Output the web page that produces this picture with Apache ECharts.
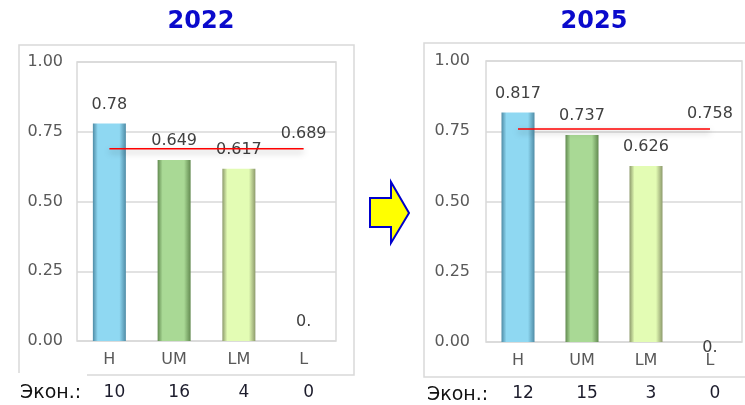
<!DOCTYPE html>
<html>
<head>
<meta charset="utf-8">
<script src="https://cdn.jsdelivr.net/npm/echarts@6/dist/echarts.min.js"></script>
<style>
  html, body { margin: 0; padding: 0; background: #fff; }
  #chart { width: 745px; height: 405px; }
</style>
</head>
<body>
<div id="chart"></div>
<script>
  // data
  const categories = ['H', 'UM', 'LM', 'L'];
  const values2022 = [0.78, 0.649, 0.617, 0];
  const values2025 = [0.817, 0.737, 0.626, 0];
  const avg2022 = 0.689;
  const avg2025 = 0.758;
  const econ2022 = ['10', '16', '4', '0'];
  const econ2025 = ['12', '15', '3', '0'];
  const yTicks = [0, 0.25, 0.5, 0.75, 1];

  const FONT = 'DejaVu Sans';

  // 柱子配色: [边缘, 中间]
  const barColors = [
    ['#4f8ca6', '#8fd8f2'],
    ['#628a50', '#a9d995'],
    ['#8d9a6c', '#e3fcb4'],
    ['#999', '#ddd'],
  ];

  const gradient = ([edge, mid]) => ({
    type: 'linear', x: 0, y: 0, x2: 1, y2: 0,
    colorStops: [
      { offset: 0, color: edge },
      { offset: 0.15, color: mid },
      { offset: 0.8, color: mid },
      { offset: 1, color: edge },
    ],
  });

  const makeBars = (values, zeroOffset) =>
    values.map((v, i) => ({
      value: v,
      itemStyle: { color: gradient(barColors[i]) },
      label: v === 0 ? { offset: [0, zeroOffset] } : {},
    }));

  const makeAvg = (avg) =>
    categories.map((c, i) => ({
      value: avg,
      label: { show: i === categories.length - 1 },
    }));

  const yAxisBase = (gridIndex, margin) => ({
    type: 'value',
    gridIndex,
    min: yTicks[0],
    max: yTicks[yTicks.length - 1],
    interval: 0.25,
    axisLine: { show: false },
    axisTick: { show: false },
    axisLabel: {
      margin,
      fontFamily: FONT,
      fontSize: 16,
      color: '#595959',
      formatter: (v) => v.toFixed(2),
    },
    splitLine: { lineStyle: { color: '#d9d9d9', width: 1.5 } },
  });

  const xAxisCat = (gridIndex) => ({
    type: 'category',
    gridIndex,
    data: categories,
    axisLine: { show: false },
    axisTick: { show: false },
    axisLabel: { margin: 11, fontFamily: FONT, fontSize: 16, color: '#595959' },
  });

  const xAxisEcon = (gridIndex, data) => ({
    type: 'category',
    gridIndex,
    data,
    position: 'bottom',
    offset: 35,
    axisLine: { show: false },
    axisTick: { show: false },
    axisLabel: {
      margin: 8,
      padding: [0, 0, 0, 10],
      fontFamily: FONT,
      fontSize: 17,
      color: '#1c1c2c',
    },
  });

  const barSeries = (idx, data) => ({
    type: 'bar',
    xAxisIndex: idx,
    yAxisIndex: idx,
    barWidth: 33,
    data,
    label: {
      show: true,
      position: 'top',
      distance: 11,
      fontFamily: FONT,
      fontSize: 16,
      color: '#404040',
      formatter: (p) => (p.value === 0 ? '0.' : String(p.value)),
    },
  });

  const lineSeries = (idx, data) => ({
    type: 'line',
    xAxisIndex: idx,
    yAxisIndex: idx,
    data,
    symbol: 'circle',
    symbolSize: 0,
    z: 5,
    lineStyle: {
      color: '#ff0000',
      width: 1.5,
      shadowColor: 'rgba(0,0,0,0.35)',
      shadowBlur: 6,
      shadowOffsetY: 3,
    },
    label: {
      position: 'top',
      distance: 7,
      fontFamily: FONT,
      fontSize: 16,
      color: '#404040',
    },
  });

  const chart = echarts.init(document.getElementById('chart'));

  chart.setOption({
    animation: false,
    grid: [
      { left: 77, top: 62, width: 259, height: 279, show: true, borderColor: '#d9d9d9', borderWidth: 1.5 },
      { left: 486, top: 61, width: 256, height: 281, show: true, borderColor: '#d9d9d9', borderWidth: 1.5 },
    ],
    xAxis: [xAxisCat(0), xAxisCat(1), xAxisEcon(0, econ2022), xAxisEcon(1, econ2025)],
    yAxis: [yAxisBase(0, 14), yAxisBase(1, 16)],
    series: [
      barSeries(0, makeBars(values2022, 0)),
      barSeries(1, makeBars(values2025, 25)),
      lineSeries(0, makeAvg(avg2022)),
      lineSeries(1, makeAvg(avg2025)),
      // 经济体数量行
      { type: 'bar', xAxisIndex: 2, yAxisIndex: 0, data: [] },
      { type: 'bar', xAxisIndex: 3, yAxisIndex: 1, data: [] },
    ],
    graphic: [
      { type: 'rect', shape: { x: 19, y: 45, width: 335, height: 330 }, style: { fill: 'none', stroke: '#d9d9d9', lineWidth: 1.5 }, silent: true },
      { type: 'rect', shape: { x: 424, y: 43, width: 330, height: 334 }, style: { fill: 'none', stroke: '#d9d9d9', lineWidth: 1.5 }, silent: true },
      { type: 'rect', shape: { x: 17, y: 373, width: 70, height: 5 }, style: { fill: '#fff' }, silent: true, z: 10 },
      { type: 'text', style: { x: 201, y: 22, text: '2022', textAlign: 'center', textVerticalAlign: 'middle', font: 'bold 24px "DejaVu Sans"', fill: '#0a0acc' } },
      { type: 'text', style: { x: 594, y: 22, text: '2025', textAlign: 'center', textVerticalAlign: 'middle', font: 'bold 24px "DejaVu Sans"', fill: '#0a0acc' } },
      { type: 'text', style: { x: 20, y: 393, text: 'Экон.:', textVerticalAlign: 'middle', font: '19px "DejaVu Sans"', fill: '#111' } },
      { type: 'text', style: { x: 427, y: 395, text: 'Экон.:', textVerticalAlign: 'middle', font: '19px "DejaVu Sans"', fill: '#111' } },
      {
        type: 'polygon',
        shape: { points: [[370, 198], [391, 198], [391, 182], [409, 213], [391, 243], [391, 227], [370, 227]] },
        style: { fill: '#ffff00', stroke: '#0000cc', lineWidth: 2 },
        silent: true,
      },
    ],
  });
</script>
</body>
</html>
